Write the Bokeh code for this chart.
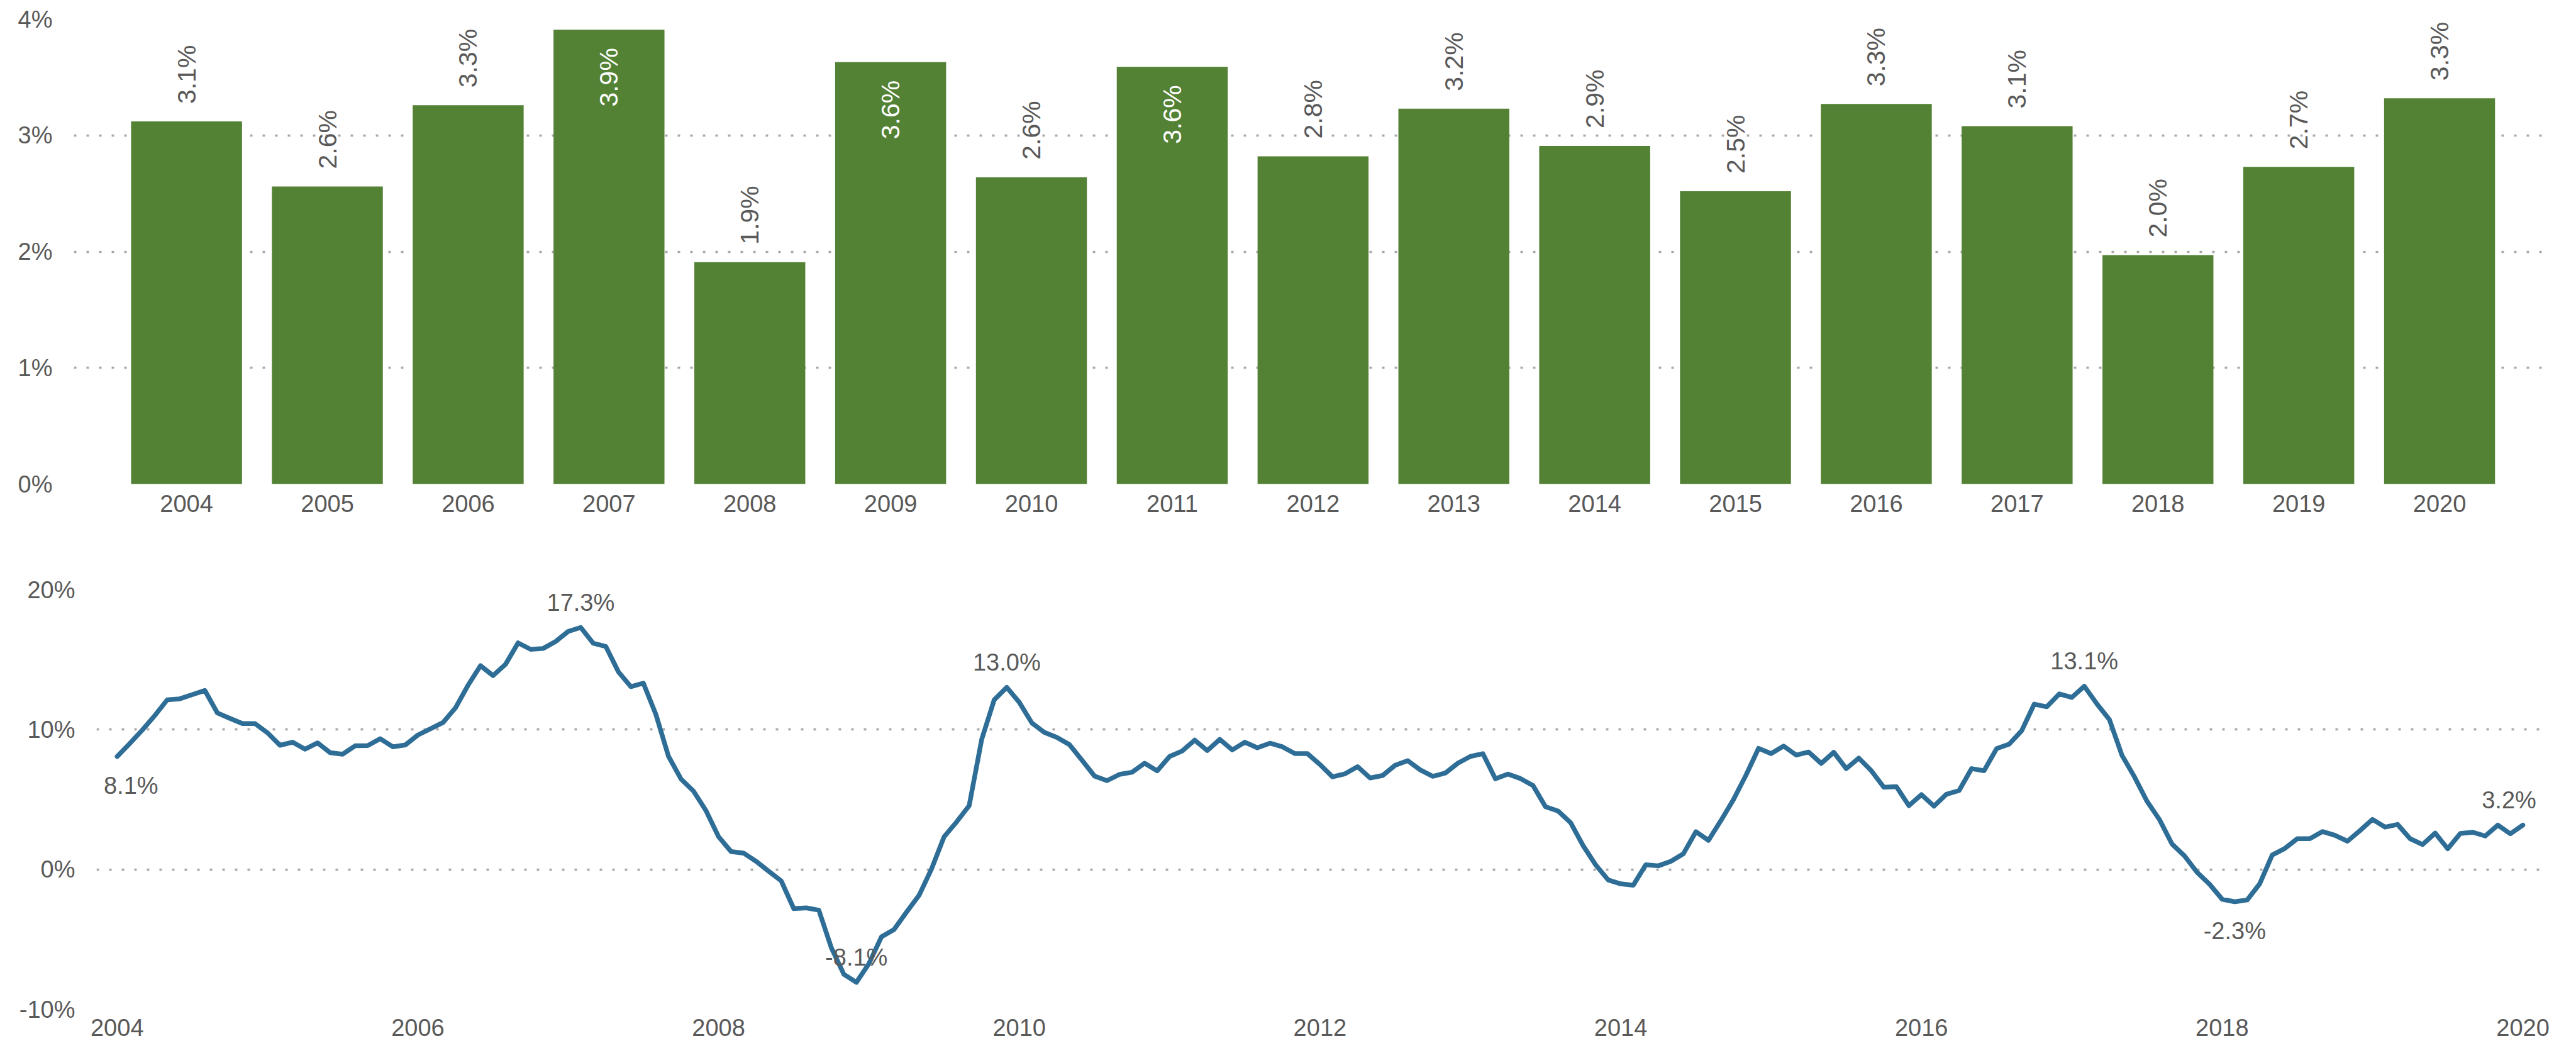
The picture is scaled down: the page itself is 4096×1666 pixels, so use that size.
import math
from bokeh.plotting import figure
from bokeh.layouts import column
from bokeh.models import (ColumnDataSource, LabelSet, FixedTicker,
                          PrintfTickFormatter, Range1d)
from bokeh.core.properties import value
from bokeh.embed import file_html
from bokeh.resources import INLINE

# ---------------- data ----------------
years = list(range(2004, 2021))
annual_growth = [3.12, 2.56, 3.26, 3.91, 1.91, 3.63, 2.64, 3.59, 2.82,
                 3.23, 2.91, 2.52, 3.27, 3.08, 1.97, 2.73, 3.32]

line_start_year = 2004  # monthly series, January 2004 .. January 2020
monthly_growth = [
    8.08, 9.0, 9.96, 11.0, 12.13, 12.2, 12.5, 12.8, 11.19, 10.8, 10.43, 10.43,
    9.77, 8.88, 9.1, 8.6, 9.05, 8.35, 8.24, 8.84, 8.86, 9.35, 8.77, 8.9,
    9.61, 10.05, 10.5, 11.55, 13.16, 14.57, 13.86, 14.67, 16.2, 15.74, 15.8, 16.3,
    17.02, 17.3, 16.17, 15.95, 14.14, 13.07, 13.32, 11.08, 8.1, 6.47, 5.6, 4.2,
    2.34, 1.28, 1.17, 0.58, -0.13, -0.82, -2.8, -2.75, -2.91, -5.6, -7.5, -8.07,
    -6.73, -4.82, -4.3, -3.05, -1.85, 0.05, 2.34, 3.4, 4.56, 9.3, 12.13, 13.02,
    11.95, 10.48, 9.8, 9.44, 8.93, 7.82, 6.68, 6.35, 6.8, 6.95, 7.6, 7.05,
    8.08, 8.47, 9.25, 8.5, 9.3, 8.55, 9.1, 8.7, 9.03, 8.77, 8.28, 8.28,
    7.5, 6.62, 6.84, 7.35, 6.54, 6.72, 7.45, 7.78, 7.12, 6.66, 6.89, 7.6,
    8.08, 8.28, 6.48, 6.82, 6.5, 6.0, 4.48, 4.18, 3.35, 1.7, 0.33, -0.75,
    -1.03, -1.13, 0.33, 0.26, 0.58, 1.12, 2.7, 2.08, 3.5, 5.0, 6.75, 8.66,
    8.28, 8.82, 8.18, 8.4, 7.58, 8.38, 7.21, 7.96, 7.06, 5.88, 5.92, 4.56,
    5.35, 4.53, 5.38, 5.64, 7.21, 7.06, 8.64, 8.96, 9.92, 11.82, 11.63, 12.55,
    12.3, 13.1, 11.84, 10.72, 8.17, 6.62, 4.88, 3.56, 1.82, 0.96, -0.21, -1.06,
    -2.13, -2.31, -2.18, -1.02, 1.04, 1.5, 2.2, 2.2, 2.71, 2.44, 2.02, 2.78,
    3.58, 3.03, 3.22, 2.2, 1.78, 2.6, 1.48, 2.57, 2.66, 2.39, 3.17, 2.55,
    3.17,
]
annotated_months = [0, 37, 59, 71, 157, 169, 192]
annotated_side = ["below", "above", "above", "above", "above", "below", "above"]

top_ticks = [0, 1, 2, 3, 4]
bottom_ticks = [-10, 0, 10, 20]
bottom_year_ticks = list(range(2004, 2021, 2))

# ---------------- style ----------------
FONT = "Liberation Sans"
TEXT = "#595959"
GREEN = "#548235"
BLUE = "#2E6D96"
GRID = "#A8A8A8"
TICK_PX = "38px"


def style_axes(p, xticks, yticks, x_standoff):
    if "frame_align" in p.properties():
        p.frame_align = False
    p.outline_line_color = None
    p.background_fill_color = "white"
    p.border_fill_color = "white"
    p.xgrid.visible = False
    p.ygrid.ticker = FixedTicker(ticks=yticks)
    p.ygrid.grid_line_color = GRID
    p.ygrid.grid_line_dash = "4 16"
    p.ygrid.grid_line_width = 3.5
    for ax in (p.xaxis[0], p.yaxis[0]):
        ax.axis_line_color = None
        ax.major_tick_line_color = None
        ax.minor_tick_line_color = None
        ax.major_tick_out = 0
        ax.major_tick_in = 0
        ax.major_label_text_font = FONT
        ax.major_label_text_font_size = TICK_PX
        ax.major_label_text_color = TEXT
    p.yaxis[0].ticker = FixedTicker(ticks=yticks)
    p.yaxis[0].formatter = PrintfTickFormatter(format="%d%%")
    p.yaxis[0].major_label_standoff = 34
    p.xaxis[0].ticker = FixedTicker(ticks=xticks)
    p.xaxis[0].formatter = PrintfTickFormatter(format="%d")
    p.xaxis[0].major_label_standoff = x_standoff


# ---------------- top: annual bars ----------------
p1 = figure(width=4096, height=890, output_backend="svg", toolbar_location=None,
            x_range=Range1d(2003.20, 2020.73), y_range=Range1d(0, 4),
            min_border_left=117, min_border_right=54, min_border_top=30,
            min_border_bottom=121)
style_axes(p1, years, top_ticks, 17)
p1.vbar(x=years, top=annual_growth, width=0.788, fill_color=GREEN,
        line_color=None)

labels = [f"{v:.1f}%" for v in annual_growth]
inside = [v > 3.4 for v in annual_growth]
src_out = ColumnDataSource(dict(
    x=[x for x, i in zip(years, inside) if not i],
    y=[v for v, i in zip(annual_growth, inside) if not i],
    t=[t for t, i in zip(labels, inside) if not i]))
src_in = ColumnDataSource(dict(
    x=[x for x, i in zip(years, inside) if i],
    y=[v for v, i in zip(annual_growth, inside) if i],
    t=[t for t, i in zip(labels, inside) if i]))
p1.add_layout(LabelSet(x="x", y="y", text="t", source=src_out,
                       angle=math.pi / 2, text_align="left",
                       text_baseline="middle", y_offset=28,
                       text_font=value(FONT), text_font_size="41px",
                       text_color=TEXT))
p1.add_layout(LabelSet(x="x", y="y", text="t", source=src_in,
                       angle=math.pi / 2, text_align="right",
                       text_baseline="middle", y_offset=-29,
                       text_font=value(FONT), text_font_size="41px",
                       text_color="white"))

# ---------------- bottom: monthly line ----------------
p2 = figure(width=4096, height=776, output_backend="svg", toolbar_location=None,
            x_range=Range1d(2003.863, 2020.117), y_range=Range1d(-10, 20),
            min_border_left=153, min_border_right=57, min_border_top=47,
            min_border_bottom=62)
style_axes(p2, bottom_year_ticks, bottom_ticks, 15)
month_x = [line_start_year + i / 12 for i in range(len(monthly_growth))]
p2.line(x=month_x, y=monthly_growth, line_color=BLUE, line_width=7.5,
        line_join="round", line_cap="round")

x_shift = {0: 22, 192: -22}
ann = ColumnDataSource(dict(
    x=[month_x[i] for i in annotated_months],
    y=[monthly_growth[i] for i in annotated_months],
    t=[f"{monthly_growth[i]:.1f}%" for i in annotated_months],
    dx=[x_shift.get(i, 0) for i in annotated_months],
    dy=[40 if s == "above" else -46 for s in annotated_side],
))
p2.add_layout(LabelSet(x="x", y="y", text="t", source=ann,
                       x_offset="dx", y_offset="dy",
                       text_align="center", text_baseline="middle",
                       text_font=value(FONT), text_font_size="38px",
                       text_color=TEXT))

layout = column(p1, p2, spacing=0)
open("out.html", "w").write(file_html(layout, INLINE))
